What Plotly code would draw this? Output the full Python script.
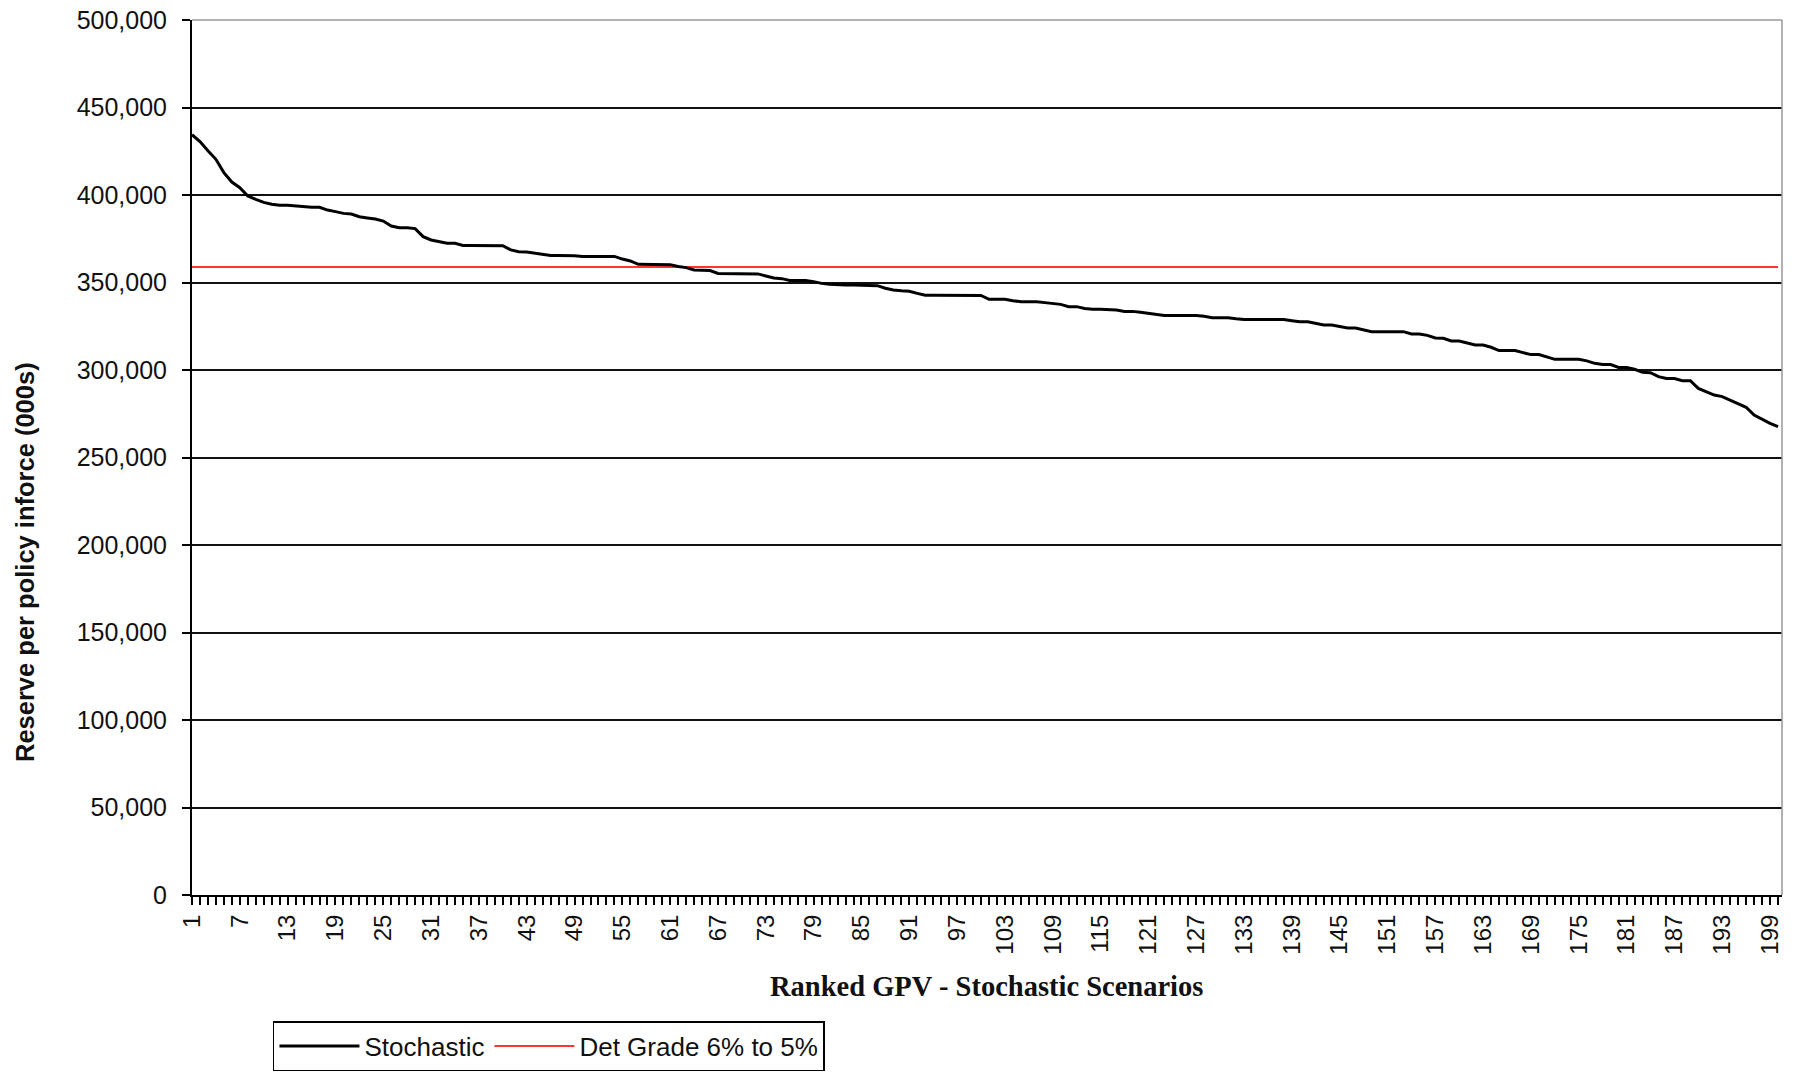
import plotly.graph_objects as go

scenarios = list(range(1, 201))

stochastic = [
    434500, 430500, 425300, 420400, 412800, 407400, 404200, 399400, 397500, 395800,
    394700, 394100, 394100, 393700, 393000, 393000, 393000, 391400, 390500, 389500,
    389100, 387600, 386900, 386300, 385100, 382300, 381300, 381300, 380800, 376200,
    374300, 373300, 372400, 372400, 371200, 371200, 371200, 371200, 371200, 371000,
    368600, 367600, 367400, 366700, 366100, 365500, 365500, 365500, 365300, 364900,
    364900, 364900, 364900, 364900, 363400, 362300, 360400, 360400, 360400, 360400,
    360200, 359100, 358500, 357200, 357200, 356800, 355200, 355200, 355200, 355200,
    355200, 354900, 353700, 352600, 352200, 351100, 351100, 351100, 350500, 349500,
    349000, 348600, 348600, 348600, 348600, 348600, 348200, 346700, 345700, 345300,
    345000, 343800, 342700, 342700, 342700, 342700, 342700, 342700, 342700, 342600,
    340400, 340400, 340400, 339600, 339000, 339000, 339000, 338500, 337900, 337500,
    336200, 336200, 335200, 334700, 334700, 334700, 334300, 333500, 333500, 333000,
    332400, 331800, 331200, 331200, 331200, 331200, 331200, 330700, 329900, 329900,
    329900, 329300, 328800, 328800, 328800, 328800, 328800, 328800, 328200, 327600,
    327600, 326700, 325700, 325700, 324800, 324000, 324000, 322900, 321900, 321900,
    321900, 321900, 321900, 320600, 320600, 319800, 318300, 318100, 316600, 316600,
    315600, 314300, 314300, 313000, 311100, 311100, 311100, 309900, 308800, 308800,
    307600, 306100, 306100, 306100, 306100, 305200, 303800, 303100, 303100, 301500,
    301500, 300400, 298700, 298500, 296200, 295100, 295100, 293900, 293900, 289500,
    287600, 285700, 284800, 282900, 280600, 278700, 274300, 271800, 269500, 267600,
]

det_grade = [358800] * 200

x_tick_labels = [str(v) if (v - 1) % 6 == 0 else "" for v in scenarios]

fig = go.Figure()
fig.add_trace(go.Scatter(
    x=scenarios, y=det_grade, mode="lines", name="Det Grade 6% to 5%",
    line=dict(color="#ff3434", width=2),
))
fig.add_trace(go.Scatter(
    x=scenarios, y=stochastic, mode="lines", name="Stochastic",
    line=dict(color="black", width=3),
))

tick_font = dict(family="Liberation Sans, Arial, sans-serif", size=24, color="#111")

fig.update_layout(
    width=1797, height=1072,
    margin=dict(l=192, r=15, t=20, b=177),
    paper_bgcolor="white", plot_bgcolor="white",
    showlegend=True,
    legend=dict(
        orientation="h", xref="container", yref="container",
        x=0.1519, y=0.0475, xanchor="left", yanchor="top",
        bordercolor="black", borderwidth=1.5, itemwidth=80,
        font=dict(family="Liberation Sans, Arial, sans-serif", size=26, color="#111"),
        traceorder="reversed", tracegroupgap=0,
    ),
    xaxis=dict(
        range=[1, 200.5], tickmode="array", tickvals=scenarios, ticktext=x_tick_labels,
        tickangle=-90, ticks="outside", ticklen=8, tickwidth=1.5, tickcolor="black",
        showline=True, linecolor="black", linewidth=2, showgrid=False, zeroline=False,
        tickfont=tick_font, automargin=False,
    ),
    yaxis=dict(
        range=[0, 500000], dtick=50000, tickformat=",", ticks="outside", ticklen=8,
        tickwidth=1.5, tickcolor="black", showline=True, linecolor="black", linewidth=2,
        showgrid=True, gridcolor="#111", gridwidth=1.5, zeroline=False,
        tickfont=dict(family="Liberation Sans, Arial, sans-serif", size=25, color="#111"),
        automargin=False, ticklabelstandoff=10, ticklabeloverflow="allow",
    ),
    annotations=[
        dict(text="<b>Ranked GPV - Stochastic Scenarios</b>", xref="paper", yref="paper",
             x=0.4994, y=-0.104, xanchor="center", yanchor="middle", showarrow=False,
             font=dict(family="Liberation Serif, Times New Roman, serif", size=28.5, color="#111")),
        dict(text="<b>Reserve per policy inforce (000s)</b>", xref="paper", yref="paper",
             x=-0.105, y=0.3806, xanchor="center", yanchor="middle", showarrow=False,
             textangle=-90,
             font=dict(family="Liberation Sans, Arial, sans-serif", size=25.5, color="#111")),
    ],
    shapes=[
        dict(type="line", xref="paper", yref="paper", x0=0, x1=1, y0=1, y1=1,
             line=dict(color="#999", width=1.5), layer="above"),
        dict(type="line", xref="paper", yref="paper", x0=1, x1=1, y0=0, y1=1,
             line=dict(color="#999", width=1.5), layer="above"),
    ],
)

# remove the default 8px page margin so the figure sits at the window origin
fig.write_html("out.html", config={"displayModeBar": False},
               post_script="document.body.style.margin='0';")
